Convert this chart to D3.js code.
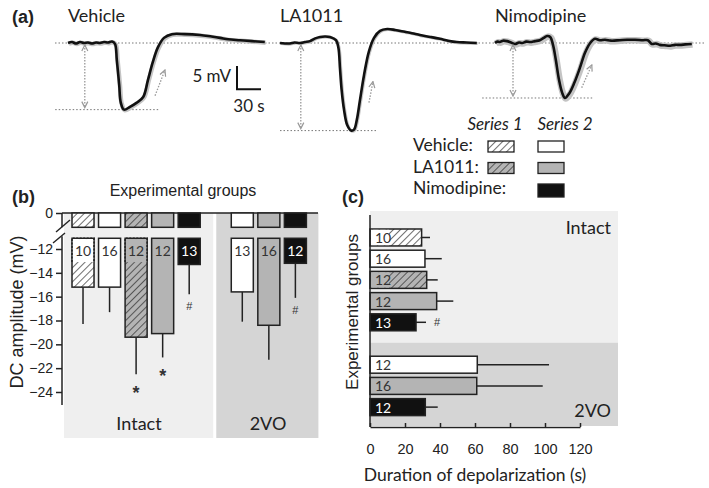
<!DOCTYPE html>
<html><head><meta charset="utf-8">
<script src="https://cdn.jsdelivr.net/npm/d3@7"></script>
<style>body{margin:0;background:#fff}svg{display:block}</style>
</head><body><svg id="c" width="709" height="488"></svg>
<script>
// ---------- DATA ----------
// panel (a): traces, [time s, DC potential mV]
const vehicleTrace = [[0,0],[5,0.2],[10,-0.1],[15,0.2],[20,0],[25,0.1],[30,-0.1],[35,0.1],[40,0],[45,0.2],[50,0.1],[55,0.3],[58.75,-0.2],[61,-3.6],[64,-9],[66,-12.8],[70,-14.3],[77.5,-13.7],[86,-12.8],[94,-11.6],[100,-7.9],[106,-4.1],[112.5,-0.9],[120,1.1],[130,1.9],[146,1.9],[165,1.7],[175,1.5],[190,1.1],[200,0.8],[215,0.6],[230,0.4],[246,0.2]];
const la1011Trace = [[0,0],[6,-0.1],[12.5,-0.1],[18,0.1],[25,0],[31,0.2],[37.5,0.4],[44,1.0],[50,1.3],[56,1.4],[62.5,1.3],[70,0.6],[73,-1.0],[75,-5.5],[77,-10],[80,-14.3],[84,-17.6],[89,-18.8],[92.5,-18.6],[96,-16.5],[100,-12.2],[105,-6.9],[111,-1.9],[117.5,1.1],[125,2.6],[134,3.0],[144,2.8],[156,2.4],[165,2.1],[175,1.7],[188,1.3],[200,0.9],[210,0.5],[221,0.2],[233,0.1],[246,0]];
const nimodipineTrace = [[0,0],[3,0.3],[6,0.2],[10,0.5],[15,0.4],[20,0.1],[25,-0.2],[30,0.1],[34,0],[39,0.3],[44,0.2],[50,0.4],[56,0.6],[61,1.1],[65,1.5],[69,1.3],[72.5,-0.4],[76,-3.6],[80,-7.9],[84,-10.7],[87.5,-11.8],[92.5,-10.9],[99,-8.6],[106,-5.4],[112.5,-2.1],[119,0],[125,0.9],[131,0.6],[137.5,0.7],[145,0.5],[156,0.6],[165,0.7],[175,0.7],[185,0.6],[191,0.6],[196,-0.2],[201,-0.1],[206,-0.4],[212,-0.5],[219,-0.6],[225,-0.4],[231,-0.4],[238,-0.3],[246,-0.2]];
const traceNames = ["Vehicle","LA1011","Nimodipine"];
const amplitudeArrowTime = [21,26,22.5];
const recoveryArrows = [[[108.8,-11.3],[121.2,-5.8]],[[111.2,-12.8],[116.2,-8.3]],[[108.4,-9.6],[121,-4.7]]];

// panels (b) and (c): bar categories
const barGroups     = ["Intact","Intact","Intact","Intact","Intact","2VO","2VO","2VO"];
const barTreatments = ["Vehicle","Vehicle","LA1011","LA1011","Nimodipine","Vehicle","LA1011","Nimodipine"];
const barSeries     = [1,2,1,2,2,2,2,2];
const barSlots      = [0,1,2,3,4,6,7,8];
// panel (b) DC amplitude (mV)
const amplitudeN    = [10,16,12,12,13,13,16,12];
const amplitudeMean = [-15.2,-15.2,-19.4,-19.1,-13.3,-15.6,-18.4,-13.2];
const amplitudeErr  = [3.1,2.1,3.1,2.0,2.5,2.5,2.9,2.9];
const amplitudeSig  = ["","","*","*","#","","","#"];
const amplitudeTicks = [0,-12,-14,-16,-18,-20,-22,-24];
// panel (c) duration of depolarization (s)
const durationN     = [10,16,12,12,13,12,16,12];
const durationMean  = [29.5,31.4,32.4,38.1,26.3,61.3,61.0,31.6];
const durationErr   = [4.8,9.6,6.3,9.5,5.7,41.0,37.7,7.1];
const durationSig   = ["","","","","#","","",""];
const durationTicks = [0,20,40,60,80,100,120];

// ---------- DRAW ----------
const svg = d3.select("#c");
const defs = svg.append("defs");
const ARIAL = "'Liberation Sans', Arial, sans-serif";
const CAL = "Lato, 'Open Sans', sans-serif";
const baseFill = {Vehicle:"#ffffff", LA1011:"#b4b4b4", Nimodipine:"#111111"};
const fmtTick = d => d===0 ? "0" : "\u2212" + Math.abs(d);
function hatch(id,bg){
  const p = defs.append("pattern").attr("id",id).attr("patternUnits","userSpaceOnUse")
    .attr("width",5).attr("height",5).attr("patternTransform","rotate(45)");
  p.append("rect").attr("width",5).attr("height",5).attr("fill",bg);
  p.append("line").attr("x1",0).attr("y1",-1).attr("x2",0).attr("y2",6).attr("stroke","#222").attr("stroke-width",1.3);
}
hatch("hW",baseFill.Vehicle); hatch("hG",baseFill.LA1011);
function fillOf(i){
  if(barSeries[i]===1) return barTreatments[i]==="Vehicle"?"url(#hW)":"url(#hG)";
  return baseFill[barTreatments[i]];
}
defs.append("marker").attr("id","arr").attr("viewBox","0 0 8 8").attr("refX",7).attr("refY",4)
  .attr("markerWidth",8).attr("markerHeight",8).attr("markerUnits","userSpaceOnUse").attr("orient","auto-start-reverse")
  .append("path").attr("d","M1,1 L7,4 L1,7").attr("fill","none").attr("stroke","#999").attr("stroke-width",1.2);

// ===== Panel (a) =====
const traces = [vehicleTrace, la1011Trace, nimodipineTrace];
const traceX0 = [68,280,495];
const semWidth = [4.5,3,6.5];
const yA = d3.scaleLinear().domain([0,5]).range([43,43-23.3]);
svg.append("text").attr("x",12).attr("y",23).attr("font-family",ARIAL).attr("font-weight","bold").attr("font-size",18).attr("fill","#222").text("(a)");
svg.append("line").attr("x1",55).attr("x2",705).attr("y1",yA(0)).attr("y2",yA(0))
  .attr("stroke","#777").attr("stroke-width",1).attr("stroke-dasharray","1.5,2");
const lowExt = [[-16,115],[0,121],[-16,122.5]];
traces.forEach((tr,k)=>{
  const xA = d3.scaleLinear().domain([0,30]).range([traceX0[k], traceX0[k]+24]);
  const line = d3.line().x(d=>xA(d[0])).y(d=>yA(d[1])).curve(d3.curveCatmullRom);
  const vmin = d3.min(tr,d=>d[1]);
  svg.append("text").attr("x",xA(0)).attr("y",22).attr("font-family",CAL).attr("font-size",18).attr("fill","#222").text(traceNames[k]);
  svg.append("line").attr("x1",xA(lowExt[k][0])).attr("x2",xA(lowExt[k][1])).attr("y1",yA(vmin)).attr("y2",yA(vmin))
    .attr("stroke","#777").attr("stroke-width",1).attr("stroke-dasharray","1.5,2");
  svg.append("path").attr("d",line(tr)).attr("fill","none").attr("stroke","#c4c4c4").attr("stroke-width",semWidth[k]).attr("stroke-linejoin","round")
    .attr("transform","translate(0.8,0.6)");
  svg.append("path").attr("d",line(tr)).attr("fill","none").attr("stroke","#111").attr("stroke-width",2.6).attr("stroke-linejoin","round");
  svg.append("line").attr("x1",xA(amplitudeArrowTime[k])).attr("x2",xA(amplitudeArrowTime[k]))
    .attr("y1",yA(0)+2).attr("y2",yA(vmin)-2).attr("stroke","#999").attr("stroke-width",1.3).attr("stroke-dasharray","1.5,1.5")
    .attr("marker-start","url(#arr)").attr("marker-end","url(#arr)");
  const ra = recoveryArrows[k];
  svg.append("line").attr("x1",xA(ra[0][0])).attr("y1",yA(ra[0][1])).attr("x2",xA(ra[1][0])).attr("y2",yA(ra[1][1]))
    .attr("stroke","#999").attr("stroke-width",1.3).attr("stroke-dasharray","1.5,1.5").attr("marker-end","url(#arr)");
  if(k===0){
    // scale bar: 5 mV, 30 s
    const sx = 237, sy = 89.3;
    const w = xA(30)-xA(0), h = yA(0)-yA(5);
    svg.append("path").attr("d",`M${sx},${sy-h} L${sx},${sy} L${sx+w},${sy}`).attr("fill","none").attr("stroke","#111").attr("stroke-width",2);
    svg.append("text").attr("x",sx-6).attr("y",sy-7).attr("text-anchor","end").attr("font-family",CAL).attr("font-size",17).attr("fill","#222").text("5 mV");
    svg.append("text").attr("x",sx+w/2).attr("y",sy+23).attr("text-anchor","middle").attr("font-family",CAL).attr("font-size",17).attr("fill","#222").text("30 s");
  }
});

// legend
const lg = svg.append("g");
lg.append("text").attr("x",495).attr("y",130).attr("text-anchor","middle").attr("font-family",CAL).attr("font-style","italic").attr("font-size",17).attr("fill","#222").text("Series 1");
lg.append("text").attr("x",565).attr("y",130).attr("text-anchor","middle").attr("font-family",CAL).attr("font-style","italic").attr("font-size",17).attr("fill","#222").text("Series 2");
const legRows = ["Vehicle","LA1011","Nimodipine"];
legRows.forEach((t,r)=>{
  const y = 141 + r*21.5;
  lg.append("text").attr("x",413).attr("y",y+10).attr("font-family",CAL).attr("font-size",17.5).attr("fill","#222").text(t+":");
  if(t!=="Nimodipine"){
    lg.append("rect").attr("x",488).attr("y",y).attr("width",26).attr("height",11).attr("fill",t==="Vehicle"?"url(#hW)":"url(#hG)").attr("stroke","#222").attr("stroke-width",1.3);
  }
  lg.append("rect").attr("x",538).attr("y",y).attr("width",26).attr("height",t==="Nimodipine"?13:11).attr("fill",baseFill[t]).attr("stroke","#222").attr("stroke-width",1.3);
});

// ===== Panel (b) =====
const gB = svg.append("g");
const xB = d3.scaleBand().domain(d3.range(9)).range([72,306.4]).paddingInner(0.17).paddingOuter(0);
const bw = xB.bandwidth();
const yHigh = d3.scaleLinear().domain([0,-1.2]).range([213,227.3]);
const yLow = d3.scaleLinear().domain([-12,-24]).range([249,392]);
const breakV = -11.1;
gB.append("rect").attr("x",64).attr("y",yHigh(0)).attr("width",xB(4)+bw+13-64).attr("height",438-yHigh(0)).attr("fill","#efefef");
gB.append("rect").attr("x",xB(6)-15).attr("y",yHigh(0)).attr("width",xB(8)+bw+12-(xB(6)-15)).attr("height",438-yHigh(0)).attr("fill","#d5d5d5");
gB.append("text").attr("x",12).attr("y",203).attr("font-family",ARIAL).attr("font-weight","bold").attr("font-size",18).attr("fill","#222").text("(b)");
gB.append("text").attr("x",183).attr("y",196).attr("text-anchor","middle").attr("font-family",ARIAL).attr("font-size",16).attr("fill","#222").text("Experimental groups");
gB.append("text").attr("transform","translate(23,312) rotate(-90)").attr("text-anchor","middle").attr("font-family",ARIAL).attr("font-size",18).attr("fill","#222").text("DC amplitude (mV)");
// axes
const axL = gB.append("g").attr("transform","translate(62,0)").call(d3.axisLeft(yLow).tickValues(amplitudeTicks.slice(1)).tickFormat(fmtTick).tickSize(6).tickSizeOuter(0));
const axH = gB.append("g").attr("transform","translate(62,0)").call(d3.axisLeft(yHigh).tickValues(amplitudeTicks.slice(0,1)).tickFormat(fmtTick).tickSize(6).tickSizeOuter(0));
[axL,axH].forEach(a=>{a.selectAll("text").attr("font-family",ARIAL).attr("font-size",14).attr("fill","#222");
  a.selectAll("line,path").attr("stroke","#222").attr("stroke-width",1.5);});
axL.select(".domain").attr("d",`M0,${yLow(breakV)-2}V405`);
axH.select(".domain").attr("d",`M0,${yHigh(0)}V${yHigh(-1.2)}`);
gB.append("line").attr("x1",56).attr("y1",232).attr("x2",70).attr("y2",220).attr("stroke","#222").attr("stroke-width",1.4);
gB.append("line").attr("x1",53).attr("y1",243).attr("x2",65).attr("y2",233).attr("stroke","#222").attr("stroke-width",1.4);
gB.append("line").attr("x1",62).attr("x2",318).attr("y1",yHigh(0)).attr("y2",yHigh(0)).attr("stroke","#222").attr("stroke-width",1.5);
barSlots.forEach((s,i)=>{
  const x = xB(s);
  gB.append("rect").attr("x",x).attr("y",yHigh(0)).attr("width",bw).attr("height",yHigh(-1.2)-yHigh(0))
    .attr("fill",fillOf(i)).attr("stroke","#222").attr("stroke-width",1.5);
  gB.append("line").attr("x1",x+bw/2).attr("x2",x+bw/2).attr("y1",yLow(amplitudeMean[i])).attr("y2",yLow(amplitudeMean[i]-amplitudeErr[i]))
    .attr("stroke","#222").attr("stroke-width",1.5);
  const top = yLow(breakV);
  gB.append("rect").attr("x",x).attr("y",top).attr("width",bw).attr("height",yLow(amplitudeMean[i])-top)
    .attr("fill",fillOf(i)).attr("stroke","#222").attr("stroke-width",1.5);
  if(barSeries[i]===1){
    gB.append("rect").attr("x",x+0.8).attr("y",top+0.8).attr("width",bw-1.6).attr("height",23).attr("fill",baseFill[barTreatments[i]]);
    gB.append("path").attr("d",`M${x},${top+23.8}V${top}H${x+bw}V${top+23.8}`).attr("fill","none").attr("stroke","#222").attr("stroke-width",1.5).attr("stroke-dasharray","2,1.5");
  }
  gB.append("text").attr("x",x+bw/2).attr("y",top+18).attr("text-anchor","middle").attr("font-family",CAL).attr("font-size",14)
    .attr("fill",barTreatments[i]==="Nimodipine"?"#fff":"#333").text(amplitudeN[i]);
  if(amplitudeSig[i]){
    const star = amplitudeSig[i]==="*";
    gB.append("text").attr("x",x+bw/2).attr("y",yLow(amplitudeMean[i]-amplitudeErr[i])+(star?25:16)).attr("text-anchor","middle")
      .attr("font-family",ARIAL).attr("font-weight",star?"bold":"normal").attr("font-size",star?18:11).attr("fill","#333").text(amplitudeSig[i]);
  }
});
gB.append("text").attr("x",139).attr("y",430).attr("text-anchor","middle").attr("font-family",CAL).attr("font-size",18).attr("fill","#222").text("Intact");
gB.append("text").attr("x",268).attr("y",430).attr("text-anchor","middle").attr("font-family",CAL).attr("font-size",18).attr("fill","#222").text("2VO");

// ===== Panel (c) =====
const gC = svg.append("g");
const xC = d3.scaleLinear().domain([0,120]).range([370,580]);
const yC = d3.scaleBand().domain(d3.range(9)).range([229,415.6]).paddingInner(0.2).paddingOuter(0);
const bh = yC.bandwidth();
gC.append("rect").attr("x",370).attr("y",211).attr("width",248).attr("height",342-211).attr("fill","#efefef");
gC.append("rect").attr("x",370).attr("y",342.5).attr("width",248).attr("height",426-342.5).attr("fill","#d5d5d5");
gC.append("text").attr("x",342).attr("y",203).attr("font-family",ARIAL).attr("font-weight","bold").attr("font-size",18).attr("fill","#222").text("(c)");
gC.append("text").attr("transform","translate(358,312) rotate(-90)").attr("text-anchor","middle").attr("font-family",ARIAL).attr("font-size",17).attr("fill","#222").text("Experimental groups");
gC.append("text").attr("x",475).attr("y",481).attr("text-anchor","middle").attr("font-family",CAL).attr("font-size",17.5).attr("fill","#222").text("Duration of depolarization (s)");
gC.append("text").attr("x",611).attr("y",234).attr("text-anchor","end").attr("font-family",CAL).attr("font-size",18).attr("fill","#222").text("Intact");
gC.append("text").attr("x",611).attr("y",417).attr("text-anchor","end").attr("font-family",CAL).attr("font-size",18).attr("fill","#222").text("2VO");
barSlots.forEach((s,i)=>{
  const y = yC(s);
  gC.append("line").attr("x1",xC(durationMean[i])).attr("x2",xC(durationMean[i]+durationErr[i])).attr("y1",y+bh/2).attr("y2",y+bh/2)
    .attr("stroke","#222").attr("stroke-width",1.5);
  gC.append("rect").attr("x",xC(0)).attr("y",y).attr("width",xC(durationMean[i])-xC(0)).attr("height",bh)
    .attr("fill",fillOf(i)).attr("stroke","#222").attr("stroke-width",1.5);
  if(barSeries[i]===1){
    gC.append("rect").attr("x",xC(0)+1).attr("y",y+0.8).attr("width",18).attr("height",bh-1.6).attr("fill",baseFill[barTreatments[i]]);
  }
  gC.append("text").attr("x",xC(0)+5).attr("y",y+bh-3).attr("font-family",CAL).attr("font-size",14)
    .attr("fill",barTreatments[i]==="Nimodipine"?"#fff":"#333").text(durationN[i]);
  if(durationSig[i]){
    gC.append("text").attr("x",xC(durationMean[i]+durationErr[i])+11).attr("y",y+bh/2+4).attr("text-anchor","middle")
      .attr("font-family",ARIAL).attr("font-size",11).attr("fill","#333").text(durationSig[i]);
  }
});
const axC = gC.append("g").attr("transform","translate(0,427)").call(d3.axisBottom(xC).tickValues(durationTicks).tickSize(-4).tickSizeOuter(0).tickPadding(17));
axC.selectAll("text").attr("font-family",ARIAL).attr("font-size",14.5).attr("fill","#222");
axC.selectAll("line,path").attr("stroke","#222").attr("stroke-width",1.5);
gC.append("line").attr("x1",370).attr("x2",370).attr("y1",215).attr("y2",427).attr("stroke","#222").attr("stroke-width",1.5);
</script></body></html>
